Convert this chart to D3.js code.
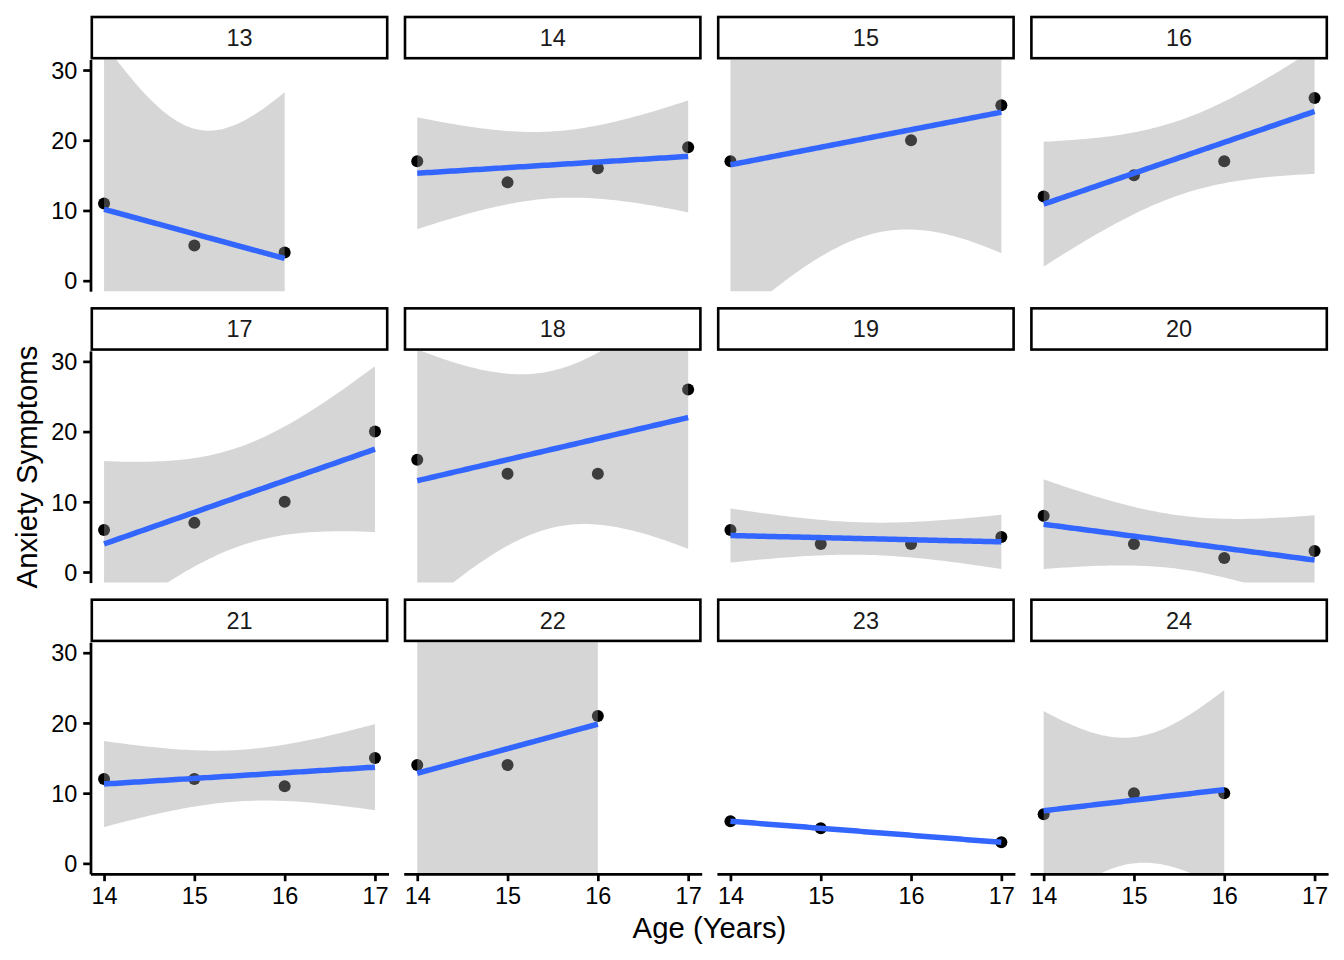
<!DOCTYPE html>
<html>
<head>
<meta charset="utf-8">
<script src="https://cdn.jsdelivr.net/npm/d3@7"></script>
<style>
	body { margin: 0; background: #fff; }
	text { font-family: "Liberation Sans", Arial, Helvetica, sans-serif; }
</style>
</head>
<body>
<script>
var ids = [13, 14, 15, 16, 17, 18, 19, 20, 21, 22, 23, 24];
var ages = [
	[14, 15, 16], [14, 15, 16, 17], [14, 16, 17], [14, 15, 16, 17],
	[14, 15, 16, 17], [14, 15, 16, 17], [14, 15, 16, 17], [14, 15, 16, 17],
	[14, 15, 16, 17], [14, 15, 16], [14, 15, 17], [14, 15, 16]
];
var anxiety = [
	[11, 5, 4], [17, 14, 16, 19], [17, 20, 25], [12, 15, 17, 26],
	[6, 7, 10, 20], [16, 14, 14, 26], [6, 4, 4, 5], [8, 4, 2, 3],
	[12, 12, 11, 15], [14, 14, 21], [6, 5, 3], [7, 10, 10]
];
var xTicks = [14, 15, 16, 17];
var yTicks = [0, 10, 20, 30];
// 0.975 t quantiles by residual df (geom_smooth lm band, level = 0.95)
var tCrit = {1: 12.7062, 2: 4.3027};

function lmBand(xs, ys) {
	var n = xs.length, mx = d3.mean(xs), my = d3.mean(ys);
	var sxx = d3.sum(xs, x => (x - mx) ** 2);
	var sxy = d3.sum(xs, (x, i) => (x - mx) * (ys[i] - my));
	var b = sxy / sxx, a = my - b * mx;
	var rss = d3.sum(xs, (x, i) => (ys[i] - a - b * x) ** 2);
	var s = Math.sqrt(rss / (n - 2)), t = tCrit[n - 2];
	var ext = d3.extent(xs);
	return d3.range(80).map(k => {
		var x = ext[0] + (ext[1] - ext[0]) * k / 79;
		var fit = a + b * x;
		var se = s * Math.sqrt(1 / n + (x - mx) ** 2 / sxx);
		return {x: x, y: fit, ymin: fit - t * se, ymax: fit + t * se};
	});
}

var W = 1344, H = 960;
var pw = 298, ph = 231.7, colStep = 313.2, rowStep = 291.35;
var left0 = 90.5, top0 = 59.5, stripH = 43.2;

var x = d3.scaleLinear().domain([13.85, 17.15]).range([0, pw]);
var y = d3.scaleLinear().domain([-1.5, 31.5]).range([ph, 0]);

var svg = d3.select("body").append("svg")
	.attr("width", W)
	.attr("height", H);

ids.forEach((id, i) => {
	var col = i % 4, row = Math.floor(i / 4);
	var g = svg.append("g")
		.attr("transform", "translate(" + (left0 + col * colStep) + "," + (top0 + row * rowStep) + ")");

	g.append("clipPath")
		.attr("id", "clip" + id)
		.append("rect")
			.attr("width", pw)
			.attr("height", ph);

	var data = g.append("g").attr("clip-path", "url(#clip" + id + ")");
	var pts = ages[i].map((a, k) => ({x: a, y: anxiety[i][k]}));
	var band = lmBand(ages[i], anxiety[i]);

	// points first, ribbon over them, then the fit line
	data.selectAll("circle")
		.data(pts)
		.enter().append("circle")
			.attr("cx", d => x(d.x))
			.attr("cy", d => y(d.y))
			.attr("r", 6)
			.attr("fill", "#000");

	data.append("path")
		.datum(band)
		.attr("fill", "#999999")
		.attr("fill-opacity", 0.4)
		.attr("d", d3.area().x(d => x(d.x)).y0(d => y(d.ymin)).y1(d => y(d.ymax)));

	data.append("path")
		.datum(band)
		.attr("fill", "none")
		.attr("stroke", "#3366FF")
		.attr("stroke-width", 5.5)
		.attr("d", d3.line().x(d => x(d.x)).y(d => y(d.y)));

	// strip
	g.append("rect")
		.attr("x", 1.3)
		.attr("y", -stripH + 0.7)
		.attr("width", pw - 2.6)
		.attr("height", stripH - 2)
		.attr("fill", "#fff")
		.attr("stroke", "#000")
		.attr("stroke-width", 2.6);
	g.append("text")
		.attr("x", pw / 2)
		.attr("y", -13.6)
		.attr("text-anchor", "middle")
		.attr("font-size", 23.47)
		.attr("fill", "#1a1a1a")
		.text(id);

	if (col == 0) {
		var ya = g.append("g")
			.call(d3.axisLeft(y).tickValues(yTicks).tickFormat(d3.format("d"))
				.tickSize(7.3).tickSizeOuter(0).tickPadding(5.9));
		ya.selectAll("text").attr("dy", "0.35em");
	}
	if (row == 2) {
		g.append("g")
			.attr("transform", "translate(0," + ph + ")")
			.call(d3.axisBottom(x).tickValues(xTicks).tickFormat(d3.format("d"))
				.tickSize(7.3).tickSizeOuter(0).tickPadding(5.9));
	}
});

svg.selectAll(".tick text")
	.attr("font-size", 23.47)
	.attr("font-family", null)
	.attr("fill", "#000");
svg.selectAll(".tick line, .domain")
	.attr("stroke", "#000")
	.attr("stroke-width", 2.7);
svg.selectAll("g[font-family]").attr("font-family", null).attr("font-size", null);

svg.append("text")
	.attr("x", 709.5)
	.attr("y", 937.5)
	.attr("text-anchor", "middle")
	.attr("font-size", 29.33)
	.text("Age (Years)");

svg.append("text")
	.attr("transform", "translate(36.5,467) rotate(-90)")
	.attr("text-anchor", "middle")
	.attr("font-size", 29.33)
	.text("Anxiety Symptoms");
</script>
</body>
</html>
